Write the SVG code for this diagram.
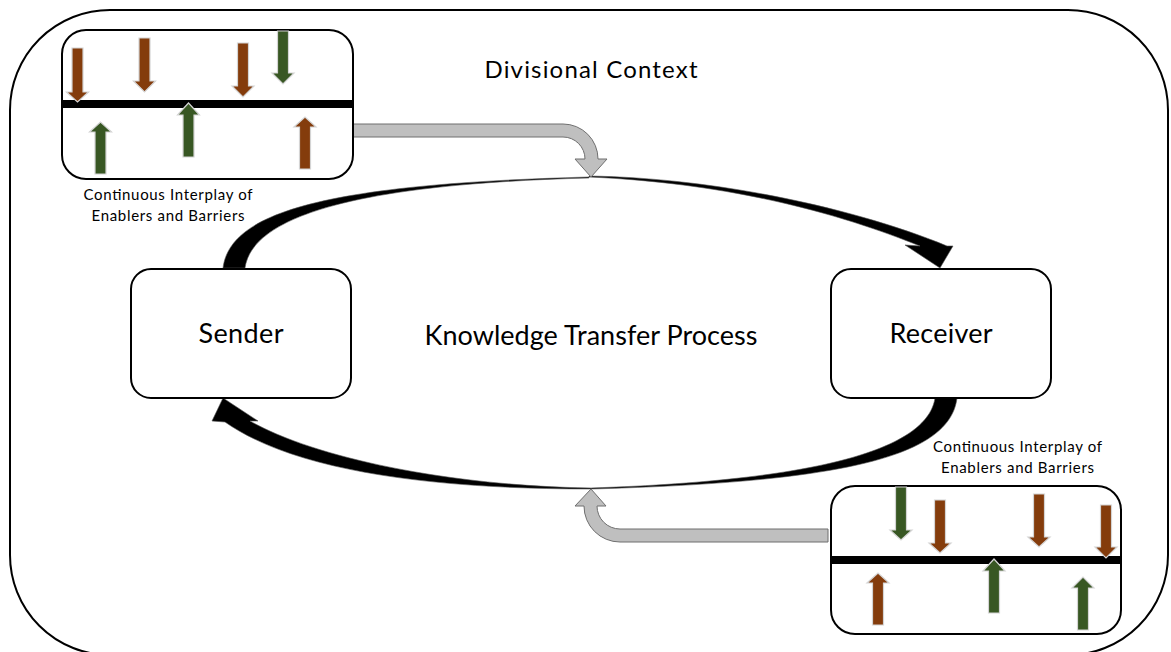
<svg xmlns="http://www.w3.org/2000/svg" width="1171" height="652" viewBox="0 0 1171 652">
<style>
.frame{fill:none;stroke:#000;stroke-width:2}
.box{fill:#fff;stroke:#000;stroke-width:2}
.bar{fill:#000}
.br{fill:#843C0C;stroke:#d4d4d4;stroke-width:1.2}
.gr{fill:#385723;stroke:#d4d4d4;stroke-width:1.2}
.gray{fill:#BFBFBF;stroke:#6f6f6f;stroke-width:1}
.curve{fill:#000;stroke:#555;stroke-width:0.6}
.t{font-family:Lato,"Open Sans","Liberation Sans",sans-serif;fill:#000;text-anchor:middle}
.big{font-size:27px}
.mid{font-size:24px}
.sm{font-size:15px}
</style>
<rect class="frame" x="10" y="10" width="1158" height="645" rx="100"/>
<g id="connectors">
<path class="curve" d="M 223 268 C 230 211, 330 184, 589 177 L 589 178 C 350 184, 252 218, 245 268 Z"/>
<path class="curve" d="M 589 176 C 720 178, 860 210, 947 246 L 953 246 L 940 268 L 905 245 L 920 246 C 860 222, 750 184, 589 177 Z"/>
<path class="curve" d="M 957 398 C 950 455, 850 482, 591 489 L 591 488 C 835 480, 928 445, 935 398 Z"/>
<path class="curve" d="M 591 489 C 430 489, 295 471, 225 422 L 212 421 L 223 398 L 258 421 L 250 421 C 315 458, 450 486, 591 488 Z"/>
<path class="gray" d="M 353 124 L 563 124 A 35 35 0 0 1 598 159 L 607 159 L 591 177 L 575 159 L 585 159 A 22 22 0 0 0 563 137 L 353 137 Z"/>
<path class="gray" d="M 828 529 L 620 529 A 23 23 0 0 1 597 506 L 606 506 L 591 489 L 575 506 L 584 506 A 36 36 0 0 0 620 542 L 828 542 Z"/>
</g>
<g id="context-label"><text class="t mid" x="591" y="78" textLength="213">Divisional Context</text></g>
<g id="process-label"><text class="t big" x="591" y="345" textLength="333">Knowledge Transfer Process</text></g>
<g id="sender">
<rect class="box" x="131" y="269" width="220" height="129" rx="20"/>
<text class="t big" x="241" y="343" textLength="85">Sender</text>
</g>
<g id="receiver">
<rect class="box" x="831" y="269" width="220" height="129" rx="20"/>
<text class="t big" x="941" y="343" textLength="103">Receiver</text>
</g>
<g id="interplay-top">
<rect class="box" x="62" y="30" width="291" height="149" rx="24"/>
<rect class="bar" x="62" y="100" width="292" height="8"/>
<polygon class="br" points="72,48 83,48 83,92 88.5,92 77.5,102 66.5,92 72,92"/>
<polygon class="br" points="139,38 150,38 150,81 155.5,81 144.5,92 133.5,81 139,81"/>
<polygon class="br" points="237.5,43 248.5,43 248.5,86 254,86 243,97 232,86 237.5,86"/>
<polygon class="gr" points="277.5,31 288.5,31 288.5,73 294,73 283,84 272,73 277.5,73"/>
<polygon class="gr" points="95,174 106,174 106,132 111.5,132 100.5,122 89.5,132 95,132"/>
<polygon class="gr" points="183,157 194,157 194,115 199.5,115 188.5,103 177.5,115 183,115"/>
<polygon class="br" points="299.5,169 310.5,169 310.5,127 316,127 305,117 294,127 299.5,127"/>
<text class="t sm" x="168" y="200" textLength="169">Continuous Interplay of</text>
<text class="t sm" x="168" y="221" textLength="153">Enablers and Barriers</text>
</g>
<g id="interplay-bottom">
<rect class="box" x="831" y="486" width="290" height="148" rx="24"/>
<rect class="bar" x="831" y="556" width="291" height="8"/>
<polygon class="gr" points="895.5,487 906.5,487 906.5,530 912,530 901,540 890,530 895.5,530"/>
<polygon class="br" points="934.5,500 945.5,500 945.5,543 951,543 940,553 929,543 934.5,543"/>
<polygon class="br" points="1033.5,494 1044.5,494 1044.5,537 1050,537 1039,547 1028,537 1033.5,537"/>
<polygon class="br" points="1100.5,505 1111.5,505 1111.5,547 1117,547 1106,558 1095,547 1100.5,547"/>
<polygon class="br" points="872.5,625 883.5,625 883.5,583 889,583 878,573 867,583 872.5,583"/>
<polygon class="gr" points="988.5,613 999.5,613 999.5,571 1005,571 994,559 983,571 988.5,571"/>
<polygon class="gr" points="1077.5,630 1088.5,630 1088.5,588 1094,588 1083,577 1072,588 1077.5,588"/>
<text class="t sm" x="1017.5" y="452" textLength="169">Continuous Interplay of</text>
<text class="t sm" x="1017.5" y="473" textLength="153">Enablers and Barriers</text>
</g>
</svg>
